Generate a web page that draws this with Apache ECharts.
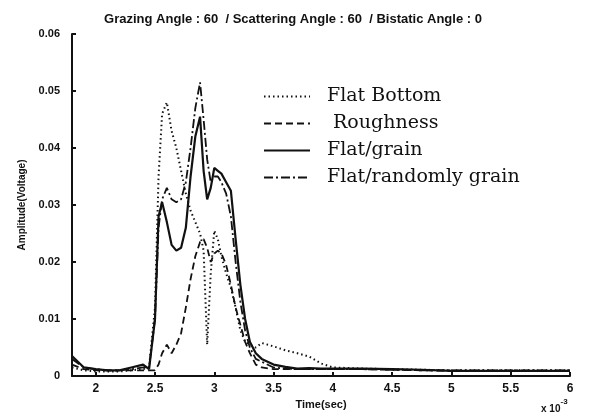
<!DOCTYPE html>
<html>
<head>
<meta charset="utf-8">
<style>
  html, body { margin: 0; padding: 0; background: #fff; }
  #chart { width: 603px; height: 417px; }
</style>
<script src="https://cdn.jsdelivr.net/npm/echarts@6/dist/echarts.min.js"></script>
</head>
<body>
<div id="chart"></div>
<script>
// time axis (x 10^-3 sec)
var timeMs = [1.8, 1.9, 2.0, 2.1, 2.2, 2.3, 2.4, 2.45, 2.5, 2.53, 2.56, 2.6, 2.64, 2.68, 2.72, 2.76,
    2.8, 2.84, 2.88, 2.91, 2.94, 2.97, 3.0, 3.03, 3.06, 3.1, 3.14, 3.18, 3.22, 3.26, 3.3, 3.35,
    3.4, 3.5, 3.6, 3.7, 3.8, 3.9, 4.0, 4.25, 4.5, 4.75, 5.0, 5.25, 5.5, 5.75, 6.0];

// amplitude (voltage)
var flatBottom = [0.0015, 0.001, 0.0008, 0.0008, 0.0008, 0.001, 0.0012, 0.0015, 0.012, 0.035, 0.046, 0.048, 0.043, 0.040, 0.036, 0.032,
    0.029, 0.027, 0.025, 0.022, 0.0055, 0.018, 0.0255, 0.024, 0.021, 0.018, 0.0155, 0.012, 0.008, 0.006, 0.0055, 0.005,
    0.0058, 0.0052, 0.0045, 0.004, 0.0034, 0.0022, 0.0015, 0.0013, 0.0012, 0.0011, 0.001, 0.001, 0.001, 0.001, 0.001];
var roughness = [0.002, 0.0012, 0.001, 0.001, 0.001, 0.001, 0.001, 0.001, 0.001, 0.002, 0.004, 0.0055, 0.004, 0.0055, 0.0075, 0.012,
    0.017, 0.021, 0.0235, 0.024, 0.0225, 0.020, 0.0215, 0.022, 0.0215, 0.0195, 0.016, 0.012, 0.009, 0.006, 0.004, 0.002,
    0.0015, 0.0012, 0.0012, 0.0012, 0.0012, 0.0012, 0.0012, 0.0012, 0.0011, 0.001, 0.0009, 0.0009, 0.0009, 0.0009, 0.0009];
var flatGrain = [0.0035, 0.0015, 0.0012, 0.001, 0.001, 0.0015, 0.002, 0.0012, 0.010, 0.028, 0.0305, 0.027, 0.023, 0.022, 0.0225, 0.026,
    0.035, 0.042, 0.0455, 0.036, 0.031, 0.033, 0.0365, 0.036, 0.0355, 0.034, 0.0325, 0.024, 0.016, 0.010, 0.006, 0.004,
    0.003, 0.002, 0.0016, 0.0013, 0.0014, 0.0013, 0.0013, 0.0013, 0.0012, 0.0011, 0.0009, 0.0009, 0.0009, 0.0009, 0.0009];
var randomGrain = [0.003, 0.0015, 0.0012, 0.001, 0.001, 0.0012, 0.0015, 0.0015, 0.010, 0.026, 0.031, 0.033, 0.031, 0.0305, 0.031, 0.034,
    0.040, 0.047, 0.0515, 0.045, 0.038, 0.034, 0.035, 0.035, 0.034, 0.032, 0.028, 0.020, 0.013, 0.008, 0.005, 0.003,
    0.0025, 0.0015, 0.0013, 0.0012, 0.0012, 0.0012, 0.0012, 0.0012, 0.0011, 0.001, 0.001, 0.001, 0.001, 0.001, 0.001];

var seriesNames = ['Flat Bottom', 'Roughness', 'Flat/grain', 'Flat/randomly grain'];
var xTicks = [2, 2.5, 3, 3.5, 4, 4.5, 5, 5.5, 6];

function pairs(vals) {
    return timeMs.map(function (t, i) { return [t, vals[i]]; });
}

var chart = echarts.init(document.getElementById('chart'));
chart.setOption({
    animation: false,
    color: ['#111'],
    title: {
        text: 'Grazing Angle : 60  / Scattering Angle : 60  / Bistatic Angle : 0',
        left: 288,
        textAlign: 'center',
        top: 8,
        textStyle: { fontFamily: 'Liberation Sans', fontSize: 13, fontWeight: 'bold', color: '#111' }
    },
    legend: {
        data: seriesNames,
        orient: 'vertical',
        left: 258,
        top: 82,
        itemWidth: 46,
        itemHeight: 12,
        itemGap: 8,
        itemStyle: { opacity: 0 },
        formatter: function (name) { return name === 'Roughness' ? ' ' + name : name; },
        textStyle: { fontFamily: 'DejaVu Serif', fontSize: 19, color: '#111', padding: [0, 0, 0, 12] }
    },
    grid: { left: 72, right: 33, top: 34, bottom: 41 },
    xAxis: {
        type: 'value',
        min: 1.8,
        max: 6,
        name: 'Time(sec)',
        nameLocation: 'middle',
        nameGap: 20,
        nameTextStyle: { fontFamily: 'Liberation Sans', fontSize: 11, fontWeight: 'bold', color: '#111' },
        axisLine: { lineStyle: { color: '#111', width: 2 } },
        axisTick: { inside: true, length: 4, customValues: xTicks, lineStyle: { color: '#111', width: 2 } },
        axisLabel: { customValues: xTicks, color: '#111', fontFamily: 'Liberation Sans', fontSize: 12, fontWeight: 'bold', margin: 7 },
        splitLine: { show: false }
    },
    yAxis: {
        type: 'value',
        min: 0,
        max: 0.06,
        interval: 0.01,
        name: 'Amplitude(Voltage)',
        nameLocation: 'middle',
        nameGap: 45,
        nameTextStyle: { fontFamily: 'Liberation Sans', fontSize: 10, fontWeight: 'bold', color: '#111' },
        axisLine: { show: true, lineStyle: { color: '#111', width: 2 } },
        axisTick: { show: true, inside: true, length: 4, lineStyle: { color: '#111', width: 2 } },
        axisLabel: { color: '#111', fontFamily: 'Liberation Sans', fontSize: 11, fontWeight: 'bold', margin: 12 },
        splitLine: { show: false }
    },
    graphic: [{
        type: 'text',
        left: 541,
        top: 398,
        style: {
            text: '{a|x 10}{b|-3}',
            rich: {
                a: { fontFamily: 'Liberation Sans', fontSize: 10, fontWeight: 'bold', fill: '#111', padding: [6, 0, 0, 0] },
                b: { fontFamily: 'Liberation Sans', fontSize: 8, fontWeight: 'bold', fill: '#111', verticalAlign: 'top' }
            }
        }
    }],
    series: [
        {
            name: 'Flat Bottom', type: 'line', symbol: 'none', data: pairs(flatBottom),
            lineStyle: { color: '#111', width: 2, type: [1.5, 3] }
        },
        {
            name: 'Roughness', type: 'line', symbol: 'none', data: pairs(roughness),
            lineStyle: { color: '#111', width: 1.8, type: [7, 4] }
        },
        {
            name: 'Flat/grain', type: 'line', symbol: 'none', data: pairs(flatGrain),
            lineStyle: { color: '#111', width: 2.2, type: 'solid' }
        },
        {
            name: 'Flat/randomly grain', type: 'line', symbol: 'none', data: pairs(randomGrain),
            lineStyle: { color: '#111', width: 1.8, type: [9, 3, 2, 3] }
        }
    ]
});
</script>
</body>
</html>
